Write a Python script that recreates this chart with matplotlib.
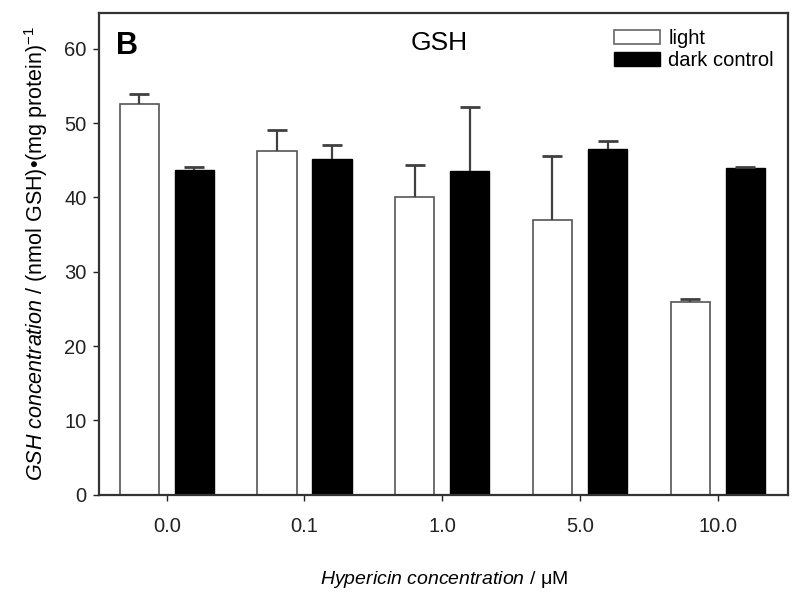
import numpy as np
import matplotlib
matplotlib.use("Agg")
import matplotlib.pyplot as plt
from matplotlib.patches import Patch

plt.rcParams['font.family'] = ['Liberation Sans', 'DejaVu Sans']
plt.rcParams['mathtext.fontset'] = 'custom'
plt.rcParams['mathtext.rm'] = 'Liberation Sans'
plt.rcParams['mathtext.it'] = 'Liberation Sans:italic'

# data
concentrations = ['0.0', '0.1', '1.0', '5.0', '10.0']
light = [52.6, 46.3, 40.0, 36.9, 26.0]
light_err = [1.3, 2.8, 4.3, 8.7, 0.4]
dark = [43.7, 45.2, 43.6, 46.5, 43.9]
dark_err = [0.4, 1.8, 8.6, 1.1, 0.15]

x = np.arange(len(concentrations))
width = 0.285
off = 0.2

fig = plt.figure(figsize=(8, 5.94), dpi=100)
ax = fig.add_axes([0.124, 0.167, 0.861, 0.811])

ax.bar(x - off, light, width, color='white', edgecolor='#555555', linewidth=1.2, zorder=2)
ax.bar(x + off, dark, width, color='black', edgecolor='black', linewidth=1.0, zorder=2)

# upper error bars only
for xs, vals, errs in [(x - off, light, light_err), (x + off, dark, dark_err)]:
    tops = np.add(vals, errs)
    ax.vlines(xs, vals, tops, color='#404040', linewidth=1.6, zorder=3)
    ax.plot(xs, tops, linestyle='none', marker='_', markersize=14,
            markeredgewidth=2.0, color='#404040', zorder=3)

ax.set_xlim(-0.49, 4.51)
ax.set_ylim(0, 64.8)
ax.set_xticks(x)
ax.set_xticklabels(concentrations)
ax.set_yticks(range(0, 61, 10))
ax.tick_params(axis='both', direction='out', length=4, width=1, labelsize=14.5, colors='#222222')
ax.tick_params(axis='x', pad=12)
ax.tick_params(axis='y', pad=5)
for s in ax.spines.values():
    s.set_linewidth(1.6)
    s.set_color('#333333')

ax.set_ylabel(r'$\mathit{GSH\ concentration\ /}$ (nmol GSH)•(mg protein)$^{-1}$',
              fontsize=15.5, labelpad=10)
ax.set_xlabel(r'$\mathit{Hypericin\ concentration\ /}$ μM', fontsize=14, labelpad=24)

ax.text(0.025, 0.962, 'B', transform=ax.transAxes, fontsize=22, fontweight='bold',
        va='top', ha='left')
ax.text(0.493, 0.962, 'GSH', transform=ax.transAxes, fontsize=19, va='top', ha='center')

handles = [Patch(facecolor='white', edgecolor='#666666', linewidth=1.2),
           Patch(facecolor='black', edgecolor='black')]
ax.legend(handles, ['light', 'dark control'], loc='upper right', frameon=False,
          fontsize=14.5, handlelength=2.3, handleheight=0.65, labelspacing=0.15,
          handletextpad=0.4, borderaxespad=0.5, bbox_to_anchor=(1.006, 1.004))

fig.savefig('out.png', dpi=100)
